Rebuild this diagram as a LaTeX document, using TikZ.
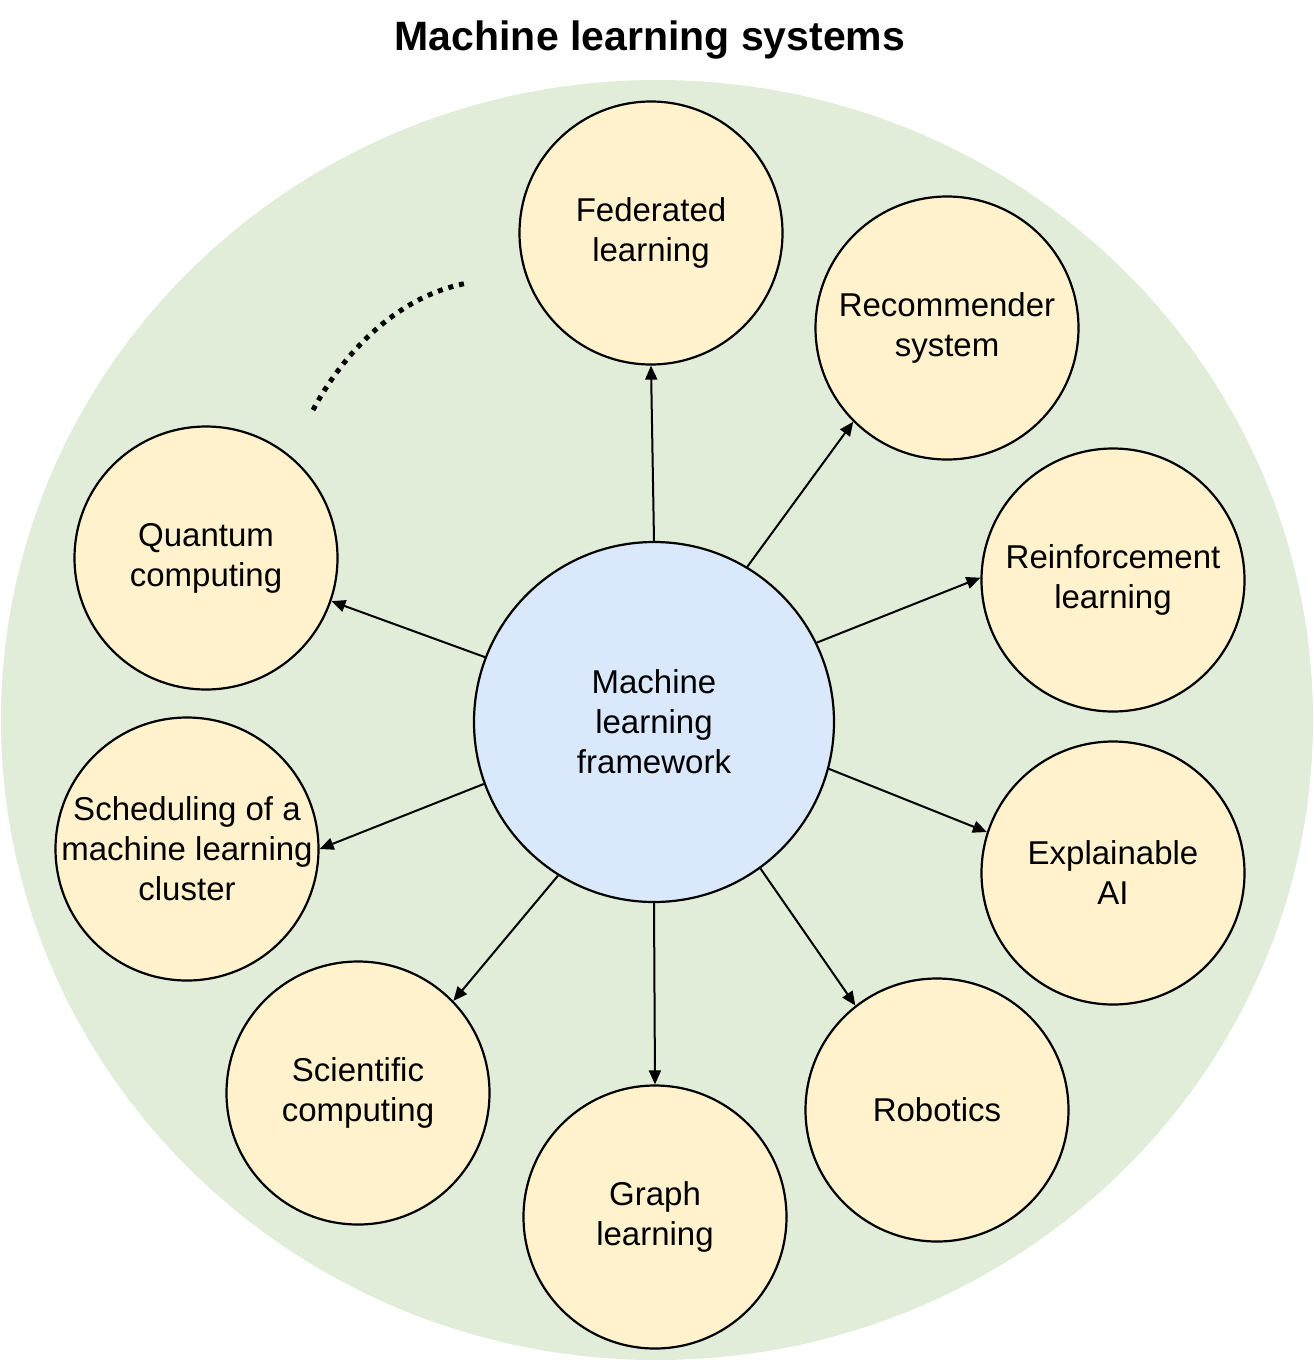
\documentclass[tikz,border=0pt]{standalone}
\usepackage{fontspec}
\setmainfont{Liberation Sans}
\usetikzlibrary{arrows.meta,positioning}
\definecolor{bggreen}{RGB}{225,237,216}
\definecolor{topicyellow}{RGB}{255,242,204}
\definecolor{coreblue}{RGB}{218,232,252}
\tikzset{
 topic/.style = {circle, draw, line width=2.2pt, fill=topicyellow,
           minimum size=263pt, inner sep=0pt, align=center,
           font=\fontsize{33}{40}\selectfont},
 core/.style = {topic, fill=coreblue, minimum size=360pt},
 link/.style = {line width=2pt, -{Triangle[length=14pt,width=12pt]}}
}

\begin{document}
\begin{tikzpicture}[x=1pt,y=-1pt]
  \useasboundingbox (0,0) rectangle (1314,1366);

  % Background
  \fill[bggreen] (657,720) ellipse [x radius=656, y radius=640];
  \node[font=\fontsize{41}{48}\selectfont\bfseries] (title) at (650,40)
  {Machine learning systems};

  % Core
  \node[core] (mlf) at (654,722) {Machine\\learning\\framework};

  % Topics
  \node[topic] (fed) at (651,233) {Federated\\learning};
  \node[topic] (rec) at (947,328) {Recommender\\system};
  \node[topic] (rl) at (1113,580) {Reinforcement\\learning};
  \node[topic] (xai) at (1113,873) {Explainable\\AI};
  \node[topic] (rob) at (937,1110) {Robotics};
  \node[topic] (graph) at (655,1217) {Graph\\learning};
  \node[topic] (sci) at (358,1093) {Scientific\\computing};
  \node[topic, inner sep=-8pt] (sched) at (187,849)
  {Scheduling of a\\machine learning\\cluster};
  \node[topic] (qc) at (206,558) {Quantum\\computing};

  % Links
  \draw[link] (mlf.90) -- (fed.270);
  \draw[link] (mlf.59) -- (rec.225);
  \draw[link] (mlf.26) -- (rl.179);
  \draw[link] (mlf.-15) -- (xai.162);
  \draw[link] (mlf.-54) -- (rob.128);
  \draw[link] (mlf.-90) -- (graph.90);
  \draw[link] (mlf.238) -- (sci.44);
  \draw[link] (mlf.200) -- (sched.0);
  \draw[link] (mlf.159) -- (qc.-19);

  % More topics
  \draw[line width=5pt, dash pattern=on 5pt off 6pt]
    (313,410) .. controls (345,350) and (400,295) .. (468,283);
\end{tikzpicture}
\end{document}
